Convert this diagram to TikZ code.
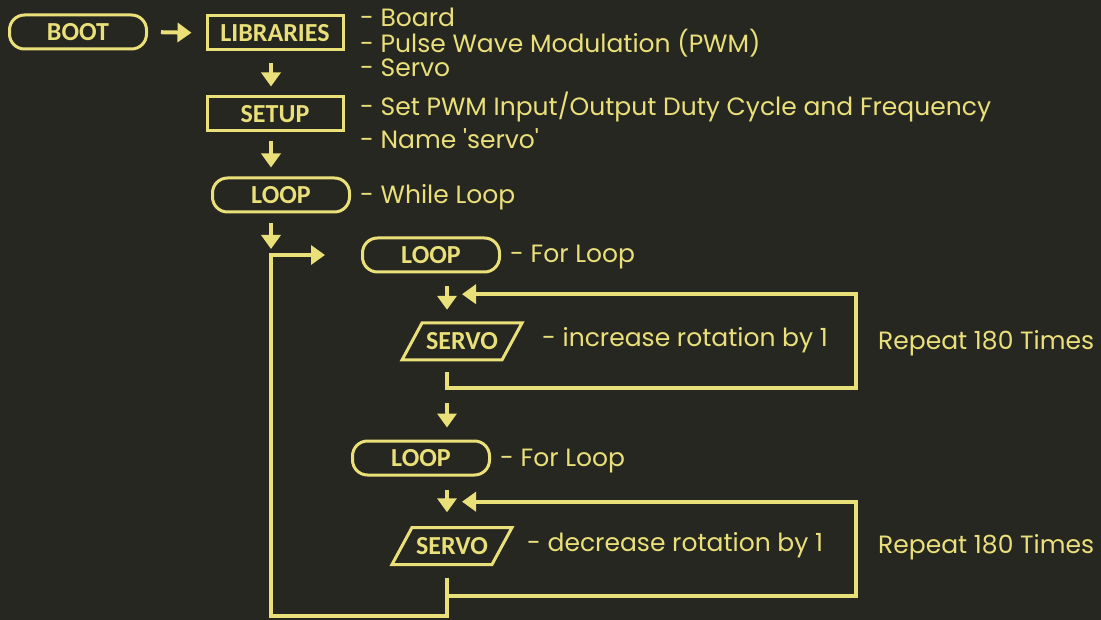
\documentclass[tikz,border=0pt]{standalone}
\usepackage{fontspec}
\setmainfont{Poppins}
\newfontfamily\boxfont{Carlito}
\usetikzlibrary{arrows.meta,calc}
\definecolor{bg}{HTML}{272721}
\definecolor{ink}{HTML}{EAE07A}
\begin{document}
\begin{tikzpicture}[x=1pt,y=-1pt,
  every node/.style={text=ink},
  frame/.style={draw=ink,line width=3pt,inner sep=0pt,font=\boxfont\bfseries\fontsize{26}{28}\selectfont},
  stad/.style={frame,rounded corners=15pt,minimum width=137pt,minimum height=34pt},
  rectbox/.style={frame,minimum width=136pt,minimum height=34pt},
  iobox/.style={inner sep=0pt,minimum width=100pt,minimum height=37pt,font=\boxfont\bfseries\fontsize{26}{28}\selectfont},
  note/.style={anchor=west,inner sep=0pt,font=\fontsize{25}{27}\selectfont},
  link/.style={draw=ink,line width=4pt},
  arr/.style={link,-{Triangle[length=14pt,width=19pt]}}]
  % canvas
  \fill[bg] (0,0) rectangle (1101,620);
  \useasboundingbox (0,0) rectangle (1101,620);
  \coordinate (colA) at (271,0);
  \coordinate (colB) at (447,0);

  % main column
  \node[stad]    (boot)  at (78,32)  {BOOT};
  \node[rectbox] (lib)   at (275,33) {LIBRARIES};
  \node[rectbox] (setup) at (275,114) {SETUP};
  \node[stad]    (loop1) at (281,195) {LOOP};

  % inner loops
  \node[stad]  (loop2)  at (431,255) {LOOP};
  \node[iobox] (servo1) at (462,341.5) {SERVO};
  \node[stad]  (loop3)  at (421,458) {LOOP};
  \node[iobox] (servo2) at (452,546) {SERVO};
  \draw[draw=ink,line width=3pt] ($(servo1.center)+(-40,-18.5)$) -- ++(100,0) -- ++(-20,37) -- ++(-100,0) -- cycle;
  \draw[draw=ink,line width=3pt] ($(servo2.center)+(-40,-18.5)$) -- ++(100,0) -- ++(-20,37) -- ++(-100,0) -- cycle;

  % annotations
  \node[note] (n1) at (360,17) {- Board};
  \node[note] (n2) at (360,43) {- Pulse Wave Modulation (PWM)};
  \node[note] (n3) at (360,68) {- Servo};
  \node[note] (n4) at (360,107) {- Set PWM Input/Output Duty Cycle and Frequency};
  \node[note] (n5) at (360,139) {- Name \textquotesingle servo\textquotesingle};
  \node[note] (n6) at (360,197) {- While Loop};
  \node[note] (n7) at (510,257) {- For Loop};
  \node[note] (n8) at (542,340) {- increase rotation by 1};
  \node[note] (n9) at (878,343) {Repeat 180 Times};
  \node[note] (n10) at (500,461) {- For Loop};
  \node[note] (n11) at (527,545) {- decrease rotation by 1};
  \node[note] (n12) at (878,547) {Repeat 180 Times};

  % connectors
  \draw[arr,shorten <=13pt,shorten >=14pt] (boot.east) -- (lib.west);
  \draw[arr,shorten <=12pt,shorten >=9pt] (lib.south -| colA) -- (setup.north -| colA);
  \draw[arr,shorten <=9pt,shorten >=9pt] (setup.south -| colA) -- (loop1.north -| colA);
  \coordinate (j) at (271,255);
  \draw[arr,shorten <=10pt,shorten >=6pt] (loop1.south -| colA) -- (j);
  \draw[arr,shorten <=13pt,shorten >=13pt] (loop2.south -| colB) -- (servo1.north -| colB);
  \draw[arr] ([yshift=-12pt]servo1.south -| colB) -- ++(0,16) -| ++(409,-94) -- ++(-394,0);
  \draw[arr,shorten <=43pt,shorten >=12pt] (servo1.south -| colB) -- (loop3.north -| colB);
  \draw[arr,shorten <=13pt,shorten >=15pt] (loop3.south -| colB) -- (servo2.north -| colB);
  \draw[arr] ([yshift=-13pt]servo2.south -| colB) -- ++(0,18) -| ++(409,-94) -- ++(-394,0);
  % outer return path back into the second loop
  \draw[arr,shorten >=36pt] ([yshift=-13pt]servo2.south -| colB) -- ++(0,38) -| (j) -- (loop2.west);
\end{tikzpicture}
\end{document}
